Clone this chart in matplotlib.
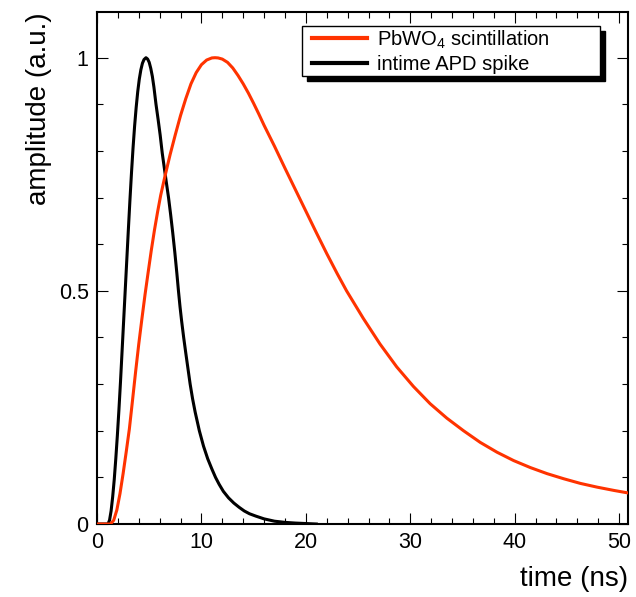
import matplotlib
matplotlib.use("Agg")
import matplotlib.pyplot as plt
from matplotlib.lines import Line2D
from matplotlib.legend_handler import HandlerLine2D
from matplotlib.ticker import MultipleLocator, FormatStrFormatter

plt.rcParams['font.family'] = ['Liberation Sans', 'DejaVu Sans']
plt.rcParams['mathtext.fontset'] = 'custom'
plt.rcParams['mathtext.rm'] = 'Liberation Sans'
plt.rcParams['mathtext.it'] = 'Liberation Sans:italic'
plt.rcParams['mathtext.bf'] = 'Liberation Sans:bold'

# PbWO4 scintillation pulse
pbwo_t = [0, 1.3, 1.6, 1.9, 2.2, 2.5, 2.8, 3.1, 3.4, 3.7, 4.0, 4.3, 4.6,
          4.9, 5.2, 5.5, 5.8, 6.1, 6.5, 7.0, 7.5, 8.0, 8.5, 9.0, 9.5, 10.0,
          10.5, 11.0, 11.3, 11.6, 12.0, 12.5, 13.0, 13.5, 14.0, 14.5, 15.0,
          15.5, 16.0, 17.0, 18.0, 19.0, 20.0, 21.0, 22.0, 23.0, 23.9, 25.5,
          27.1, 28.7, 30.3, 31.9, 33.5, 35.1, 36.7, 38.3, 39.9, 41.5, 43.1,
          44.7, 46.3, 47.9, 49.5, 51.0]
pbwo_amp = [0, 0, 0.008, 0.03, 0.065, 0.108, 0.155, 0.204, 0.265, 0.327,
            0.386, 0.44, 0.492, 0.54, 0.587, 0.63, 0.669, 0.705, 0.745,
            0.792, 0.835, 0.876, 0.912, 0.944, 0.968, 0.985, 0.995, 0.9995,
            1.0, 0.9995, 0.997, 0.99, 0.978, 0.962, 0.944, 0.924, 0.902,
            0.879, 0.855, 0.81, 0.763, 0.717, 0.671, 0.625, 0.58, 0.537,
            0.5, 0.441, 0.386, 0.337, 0.295, 0.258, 0.227, 0.2, 0.175,
            0.154, 0.136, 0.121, 0.108, 0.097, 0.087, 0.079, 0.072, 0.066]

# in-time APD spike
apd_t = [0, 1.05, 1.2, 1.35, 1.5, 1.65, 1.8, 1.95, 2.1, 2.25, 2.4, 2.55,
         2.7, 2.85, 3.0, 3.15, 3.3, 3.45, 3.6, 3.75, 3.9, 4.05, 4.2, 4.35,
         4.5, 4.69, 4.85, 5.0, 5.15, 5.3, 5.45, 5.65, 5.85, 6.05, 6.25,
         6.45, 6.65, 6.85, 7.05, 7.25, 7.45, 7.65, 7.8, 7.95, 8.1, 8.3,
         8.5, 8.7, 8.92, 9.15, 9.4, 9.8, 10.2, 10.6, 11.0, 11.35, 11.7,
         12.1, 12.6, 13.1, 13.6, 14.1, 14.6, 15.2, 16.0, 17.0, 18.0, 19.0,
         20.0, 21.0]
apd_amp = [0, 0, 0.008, 0.028, 0.058, 0.095, 0.14, 0.19, 0.245, 0.305,
           0.37, 0.435, 0.5, 0.565, 0.63, 0.693, 0.752, 0.806, 0.853,
           0.893, 0.927, 0.954, 0.974, 0.988, 0.996, 1.0, 0.997, 0.99,
           0.977, 0.96, 0.937, 0.9, 0.868, 0.834, 0.795, 0.763, 0.731, 0.7,
           0.664, 0.625, 0.583, 0.537, 0.5, 0.466, 0.436, 0.4, 0.367, 0.335,
           0.3, 0.269, 0.24, 0.2, 0.167, 0.14, 0.118, 0.1, 0.085, 0.07,
           0.056, 0.045, 0.036, 0.028, 0.022, 0.017, 0.011, 0.006, 0.0035,
           0.002, 0.001, 0.0]

fig = plt.figure(figsize=(6.36, 5.97), dpi=100)
ax = fig.add_axes([97 / 636, 73 / 597, 531 / 636, 512 / 597])

ax.plot(apd_t, apd_amp, color='black', lw=2.2, label='intime APD spike', zorder=3)
ax.plot(pbwo_t, pbwo_amp, color='#ff3300', lw=2.2, label='PbWO$_4$ scintillation', zorder=3)

ax.set_xlim(0, 50.85)
ax.set_ylim(0, 1.098)

ax.xaxis.set_major_locator(MultipleLocator(10))
ax.xaxis.set_minor_locator(MultipleLocator(2))
ax.yaxis.set_major_locator(MultipleLocator(0.5))
ax.yaxis.set_minor_locator(MultipleLocator(0.1))
ax.yaxis.set_major_formatter(FormatStrFormatter('%g'))

ax.tick_params(which='both', direction='in', top=True, right=True, width=0.8,
               labelsize=15.5, pad=6)
ax.tick_params(which='major', length=8)
ax.tick_params(which='minor', length=4.3)
for s in ax.spines.values():
    s.set_linewidth(1.5)

ax.set_xlabel('time (ns)', loc='right', fontsize=20, labelpad=9)
ax.set_ylabel('amplitude (a.u.)', loc='top', fontsize=20, labelpad=5)

# legend box with a hard black shadow, like the ROOT original
h, l = ax.get_legend_handles_labels()
leg = ax.legend(h[::-1], l[::-1], loc='upper left', mode='expand',
                bbox_to_anchor=(302 / 636, 1 - 75 / 597, 298 / 636, 49 / 597),
                bbox_transform=fig.transFigure, borderaxespad=0,
                fontsize=14.5, handlelength=3.1, handletextpad=0.5,
                labelspacing=0.2, borderpad=0.12, fancybox=False, framealpha=1,
                edgecolor='black',
                handler_map={Line2D: HandlerLine2D(xpad=0.4)},
                shadow={'ox': 3.6, 'oy': -3.6, 'color': 'black', 'alpha': 1})
leg.get_frame().set_linewidth(1.0)
for line in leg.get_lines():
    line.set_linewidth(3)

fig.savefig('out.png', dpi=100)
